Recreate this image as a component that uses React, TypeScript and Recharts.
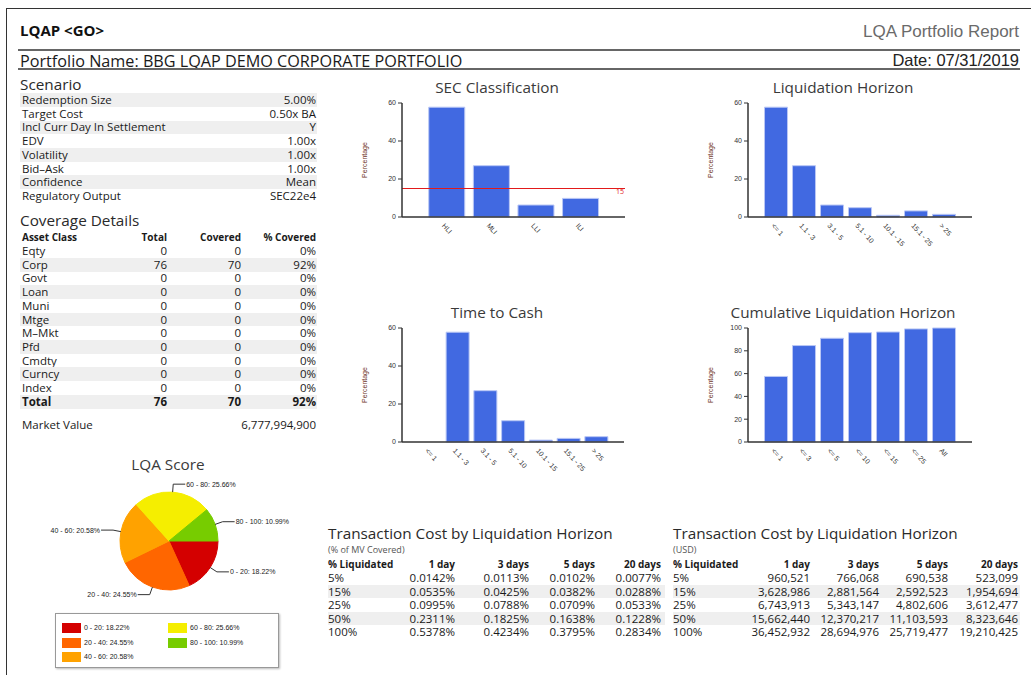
import { BarChart, Bar, XAxis, YAxis, ReferenceLine, PieChart, Pie, Cell } from 'recharts'

const FONT = '"Open Sans", "Noto Sans", sans-serif'
const ARIAL = '"Liberation Sans", Arial, sans-serif'

// bar chart data
const secCategories = ['HLI', 'MLI', 'LLI', 'ILI']
const secValues = [57.8, 27, 6.3, 9.8]
const secLimit = 15
const horizonBuckets = ['<= 1', '1.1 - 3', '3.1 - 5', '5.1 - 10', '10.1 - 15', '15.1 - 25', '> 25']
const horizonValues = [57.8, 27, 6.3, 4.9, 0.9, 3.2, 1.4]
const timeToCashValues = [0, 57.8, 27, 11.2, 1, 1.9, 2.8]
const cumulativeBuckets = ['<= 1', '<= 3', '<= 5', '<= 10', '<= 15', '<= 25', 'All']
const cumulativeValues = [57.5, 84.6, 91, 95.9, 96.5, 99.2, 100]
const pctTicks = [0, 20, 40, 60]
const cumTicks = [0, 20, 40, 60, 80, 100]

// pie data
const scoreBuckets = ['0 - 20', '20 - 40', '40 - 60', '60 - 80', '80 - 100']
const scoreShares = [18.22, 24.55, 20.58, 25.66, 10.99]
const scoreColors = ['#d40000', '#ff6600', '#ffa200', '#f5ee00', '#77cc00']

// tables
const scenarioLabels = ['Redemption Size', 'Target Cost', 'Incl Curr Day In Settlement', 'EDV', 'Volatility', 'Bid\u2013Ask', 'Confidence', 'Regulatory Output']
const scenarioValues = ['5.00%', '0.50x BA', 'Y', '1.00x', '1.00x', '1.00x', 'Mean', 'SEC22e4']

const assetClasses = ['Eqty', 'Corp', 'Govt', 'Loan', 'Muni', 'Mtge', 'M\u2013Mkt', 'Pfd', 'Cmdty', 'Curncy', 'Index', 'Total']
const assetTotals = ['0', '76', '0', '0', '0', '0', '0', '0', '0', '0', '0', '76']
const assetCovered = ['0', '70', '0', '0', '0', '0', '0', '0', '0', '0', '0', '70']
const assetPctCovered = ['0%', '92%', '0%', '0%', '0%', '0%', '0%', '0%', '0%', '0%', '0%', '92%']
const marketValue = '6,777,994,900'

const costHeaders = ['1 day', '3 days', '5 days', '20 days']
const liquidatedPcts = ['5%', '15%', '25%', '50%', '100%']
const costPct1d = ['0.0142%', '0.0535%', '0.0995%', '0.2311%', '0.5378%']
const costPct3d = ['0.0113%', '0.0425%', '0.0788%', '0.1825%', '0.4234%']
const costPct5d = ['0.0102%', '0.0382%', '0.0709%', '0.1638%', '0.3795%']
const costPct20d = ['0.0077%', '0.0288%', '0.0533%', '0.1228%', '0.2834%']
const costUsd1d = ['960,521', '3,628,986', '6,743,913', '15,662,440', '36,452,932']
const costUsd3d = ['766,068', '2,881,564', '5,343,147', '12,370,217', '28,694,976']
const costUsd5d = ['690,538', '2,592,523', '4,802,606', '11,103,593', '25,719,477']
const costUsd20d = ['523,099', '1,954,694', '3,612,477', '8,323,646', '19,210,425']

const SHADE = '#efefef'
const ROW = 11.5

function T({ x, y, size, anchor = 'start', weight = 400, color = '#1a1a1a', font = FONT, children }: any) {
  const lh = Math.round(size * 1.4)
  const w = 500
  const left = anchor === 'start' ? x : anchor === 'end' ? x - w : x - w / 2
  return (
    <div style={{
      position: 'absolute', left, top: y - lh / 2, width: w, height: lh, lineHeight: lh + 'px',
      fontSize: size, fontWeight: weight, color, fontFamily: font, whiteSpace: 'nowrap',
      textAlign: anchor === 'start' ? 'left' : anchor === 'end' ? 'right' : 'center'
    }}>{children}</div>
  )
}

function Shade({ x, y, w, h }: any) {
  return <div style={{ position: 'absolute', left: x, top: y - h / 2, width: w, height: h, background: SHADE }} />
}

function SlantTick({ x, y, payload }: any) {
  const tx = x - 5
  const ty = y + 1
  return (
    <text x={tx} y={ty} transform={`rotate(48 ${tx} ${ty})`} fontSize={7} fill="#333" fontFamily={ARIAL}>
      {payload.value}
    </text>
  )
}

function BarPanel({ axisX, plotTop, axisEnd, title, titleX, titleY, categories, values, max, ticks, gap, limit }: any) {
  const data = categories.map((name: string, i: number) => ({ name, value: values[i] }))
  const plotW = axisEnd - axisX
  const pad = plotW / (categories.length + 1) / 2
  return (
    <>
      <T x={titleX} y={titleY} size={15.3} anchor="middle" color="#3a3a3a">{title}</T>
      <div style={{
        position: 'absolute', left: axisX - 67, top: plotTop + 52, width: 60, height: 10, lineHeight: '10px',
        fontSize: 7, fontFamily: ARIAL, color: '#6e3426', textAlign: 'center', transform: 'rotate(-90deg)'
      }}>Percentage</div>
      <div style={{ position: 'absolute', left: axisX - 47, top: plotTop - 8 }}>
        <BarChart width={plotW + 67} height={180} data={data} margin={{ top: 8, right: 20, left: 0, bottom: 0 }} barCategoryGap={gap}>
          <XAxis dataKey="name" height={58} padding={{ left: pad, right: pad }} interval={0}
            axisLine={{ stroke: '#333', strokeWidth: 1.5 }} tickLine={false} tick={<SlantTick />} />
          <YAxis width={47} domain={[0, max]} ticks={ticks} tickSize={4} interval={0}
            axisLine={{ stroke: '#333', strokeWidth: 1.5 }} tickLine={{ stroke: '#333' }}
            tick={{ fontSize: 7, fill: '#333', fontFamily: ARIAL }} />
          {limit != null && (
            <ReferenceLine y={limit} stroke="#e21a1a" strokeWidth={1}
              label={{ value: String(limit), position: 'insideTopRight', fill: '#e21a1a', fontSize: 7, offset: 1 }} />
          )}
          <Bar dataKey="value" fill="#4169e1" stroke="#b9c7f5" strokeWidth={1} isAnimationActive={false} />
        </BarChart>
      </div>
    </>
  )
}

const RADIAN = Math.PI / 180

function ScoreLabel({ cx, cy, midAngle, outerRadius, name, value }: any) {
  const cos = Math.cos(-midAngle * RADIAN)
  const sin = Math.sin(-midAngle * RADIAN)
  const sx = cx + outerRadius * cos
  const sy = cy + outerRadius * sin
  const mx = cx + (outerRadius + 8) * cos
  const my = cy + (outerRadius + 8) * sin
  const dir = cos >= 0 ? 1 : -1
  const ex = mx + dir * 12
  return (
    <g>
      <polyline points={`${sx},${sy} ${mx},${my} ${ex},${my}`} fill="none" stroke="#333" strokeWidth={1} />
      <text x={ex + dir * 1} y={my + 2.5} textAnchor={dir > 0 ? 'start' : 'end'} fontSize={7} fill="#222" fontFamily={ARIAL}>
        {`${name}: ${value.toFixed(2)}%`}
      </text>
    </g>
  )
}

function CostTable({ left, width, title, subtitle, cols, rights }: any) {
  return (
    <>
      <T x={left} y={533} size={15.3} color="#2a2a2a">{title}</T>
      <T x={left} y={549} size={9} color="#555">{subtitle}</T>
      <T x={left} y={564} size={10} weight={700}>% Liquidated</T>
      {costHeaders.map((h, j) => (
        <T key={h} x={left + rights[j]} y={564} size={10} weight={700} anchor="end">{h}</T>
      ))}
      {liquidatedPcts.map((p, i) => {
        const y = 578 + i * 13.5
        return (
          <div key={p}>
            {i % 2 === 1 && <Shade x={left} y={y} w={width} h={13.5} />}
            <T x={left} y={y} size={ROW}>{p}</T>
            {cols.map((c: string[], j: number) => (
              <T key={j} x={left + rights[j]} y={y} size={ROW} anchor="end">{c[i]}</T>
            ))}
          </div>
        )
      })}
    </>
  )
}

export default function App() {
  const pieData = scoreBuckets.map((name, i) => ({ name, value: scoreShares[i] }))
  return (
    <div style={{ position: 'absolute', left: 0, top: 0, width: 1031, height: 675, background: '#fff', overflow: 'hidden', fontFamily: FONT }}>
      {/* frame */}
      <div style={{ position: 'absolute', left: 6, top: 8, width: 1025, height: 1, background: '#333' }} />
      <div style={{ position: 'absolute', left: 6, top: 8, width: 1, height: 667, background: '#333' }} />

      {/* header */}
      <T x={20} y={30.5} size={15} weight={700} color="#111">LQAP &lt;GO&gt;</T>
      <T x={1019} y={32} size={17} anchor="end" color="#6a6a6a" font={ARIAL}>LQA Portfolio Report</T>
      <div style={{ position: 'absolute', left: 18, top: 49, width: 1002, height: 2, background: '#666' }} />
      <T x={20} y={61} size={16.2} color="#1a1a1a">Portfolio Name: BBG LQAP DEMO CORPORATE PORTFOLIO</T>
      <T x={1019} y={60.5} size={16.5} anchor="end" color="#222" font={ARIAL}>Date: 07/31/2019</T>
      <div style={{ position: 'absolute', left: 18, top: 68, width: 1002, height: 2, background: '#666' }} />

      {/* scenario */}
      <T x={20} y={84} size={15.3} color="#2a2a2a">Scenario</T>
      {scenarioLabels.map((l, i) => {
        const y = 100 + i * 13.7
        return (
          <div key={l}>
            {i % 2 === 0 && <Shade x={20} y={y} w={297} h={13.7} />}
            <T x={22} y={y} size={ROW}>{l}</T>
            <T x={316} y={y} size={ROW} anchor="end">{scenarioValues[i]}</T>
          </div>
        )
      })}

      {/* coverage */}
      <T x={20} y={220} size={15.3} color="#2a2a2a">Coverage Details</T>
      <T x={22} y={237} size={10} weight={700}>Asset Class</T>
      <T x={167} y={237} size={10} weight={700} anchor="end">Total</T>
      <T x={241} y={237} size={10} weight={700} anchor="end">Covered</T>
      <T x={316} y={237} size={10} weight={700} anchor="end">% Covered</T>
      {assetClasses.map((a, i) => {
        const y = 251 + i * 13.7
        const w = a === 'Total' ? 700 : 400
        return (
          <div key={a}>
            {i % 2 === 1 && <Shade x={20} y={y} w={297} h={13.7} />}
            <T x={22} y={y} size={ROW} weight={w}>{a}</T>
            <T x={167} y={y} size={ROW} weight={w} anchor="end">{assetTotals[i]}</T>
            <T x={241} y={y} size={ROW} weight={w} anchor="end">{assetCovered[i]}</T>
            <T x={316} y={y} size={ROW} weight={w} anchor="end">{assetPctCovered[i]}</T>
          </div>
        )
      })}
      <T x={22} y={425} size={ROW}>Market Value</T>
      <T x={316} y={425} size={ROW} anchor="end">{marketValue}</T>

      {/* bar charts */}
      <BarPanel axisX={402} plotTop={103} axisEnd={625} title="SEC Classification" titleX={497} titleY={87}
        categories={secCategories} values={secValues} max={60} ticks={pctTicks} gap="10%" limit={secLimit} />
      <BarPanel axisX={748} plotTop={103} axisEnd={972} title="Liquidation Horizon" titleX={843} titleY={87}
        categories={horizonBuckets} values={horizonValues} max={60} ticks={pctTicks} gap="9%" />
      <BarPanel axisX={402} plotTop={328} axisEnd={624} title="Time to Cash" titleX={497} titleY={312}
        categories={horizonBuckets} values={timeToCashValues} max={60} ticks={pctTicks} gap="9%" />
      <BarPanel axisX={748} plotTop={328} axisEnd={972} title="Cumulative Liquidation Horizon" titleX={843} titleY={312}
        categories={cumulativeBuckets} values={cumulativeValues} max={100} ticks={cumTicks} gap="9%" />

      {/* pie */}
      <T x={168} y={464} size={15.3} anchor="middle" color="#3a3a3a">LQA Score</T>
      <div style={{ position: 'absolute', left: 30, top: 466 }}>
        <PieChart width={280} height={150} margin={{ top: 0, right: 0, bottom: 0, left: 0 }}>
          <Pie data={pieData} dataKey="value" nameKey="name" cx={139} cy={75} outerRadius={49}
            startAngle={0} endAngle={-360} label={ScoreLabel} labelLine={false} isAnimationActive={false}>
            {pieData.map((d, i) => <Cell key={d.name} fill={scoreColors[i]} stroke={scoreColors[i]} />)}
          </Pie>
        </PieChart>
      </div>
      <div style={{ position: 'absolute', left: 55, top: 613, width: 222, height: 53, border: '1px solid #999', boxShadow: '1px 1px 2px #bbb', background: '#fff' }}>
        {scoreBuckets.map((b, i) => {
          const col = i < 3 ? 0 : 1
          const row = i < 3 ? i : i - 3
          const x = col === 0 ? 6 : 112
          const y = 14 + row * 14.5
          return (
            <div key={b}>
              <div style={{ position: 'absolute', left: x, top: y - 5, width: 19, height: 10, background: scoreColors[i] }} />
              <T x={x + 22} y={y} size={7} font={ARIAL} color="#222">{`${b}: ${scoreShares[i].toFixed(2)}%`}</T>
            </div>
          )
        })}
      </div>

      {/* cost tables */}
      <CostTable left={328} width={337} title="Transaction Cost by Liquidation Horizon" subtitle="(% of MV Covered)"
        cols={[costPct1d, costPct3d, costPct5d, costPct20d]} rights={[127, 201, 267, 333]} />
      <CostTable left={673} width={347} title="Transaction Cost by Liquidation Horizon" subtitle="(USD)"
        cols={[costUsd1d, costUsd3d, costUsd5d, costUsd20d]} rights={[137, 206, 275, 345]} />
    </div>
  )
}
